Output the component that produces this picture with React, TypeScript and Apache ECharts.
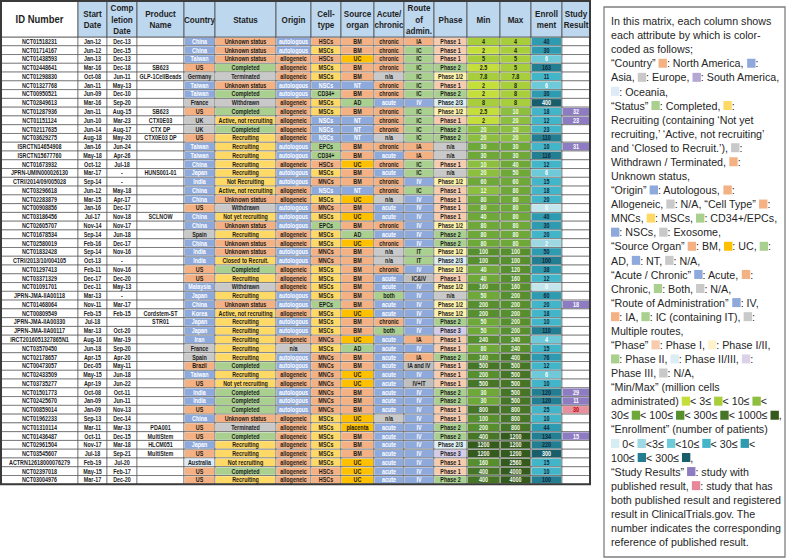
import React, { useEffect, useRef } from 'react';
import * as echarts from 'echarts';

// ---------- DATA ----------
const headers = ['ID Number', 'Start\nDate', 'Comp\nletion\nDate', 'Product\nName', 'Country', 'Status', 'Origin', 'Cell-\ntype', 'Source\norgan', 'Acute/\nchronic', 'Route\nof\nadmin.', 'Phase', 'Min', 'Max', 'Enroll\nment', 'Study\nResult'];

const ids = ['NCT01518231', 'NCT01714167', 'NCT01438593', 'NCT02448641', 'NCT01298830', 'NCT01327768', 'NCT00950521', 'NCT02849613', 'NCT01287936', 'NCT01151124', 'NCT02117635', 'NCT03629275', 'ISRCTN14654908', 'ISRCTN15677760', 'NCT01673932', 'JPRN-UMIN000026130', 'CTRI/2014/09/005028', 'NCT03296618', 'NCT02283879', 'NCT00908856', 'NCT03186456', 'NCT02605707', 'NCT01678534', 'NCT02580019', 'NCT01832428', 'CTRI/2013/10/004105', 'NCT01297413', 'NCT03371329', 'NCT01091701', 'JPRN-JMA-IIA00118', 'NCT01468064', 'NCT00809549', 'JPRN-JMA-IIA00330', 'JPRN-JMA-IIA00117', 'IRCT2016051327865N1', 'NCT03570450', 'NCT02178657', 'NCT00473057', 'NCT02433509', 'NCT03735277', 'NCT01501773', 'NCT02425670', 'NCT00859014', 'NCT01962233', 'NCT01310114', 'NCT01436487', 'NCT02961504', 'NCT03545607', 'ACTRN12618000076279', 'NCT02397018', 'NCT03004976'];

const startDates = ['Jan-12', 'Jun-12', 'Jan-13', 'Mar-16', 'Oct-08', 'Jan-11', 'Jun-09', 'Mar-16', 'Jan-11', 'Jun-10', 'Jun-14', 'Aug-18', 'Jan-16', 'May-18', 'Oct-12', 'Mar-17', 'Sep-14', 'Jun-12', 'Mar-15', 'Jan-16', 'Jul-17', 'Nov-14', 'Sep-14', 'Feb-16', 'Sep-14', 'Oct-13', 'Feb-11', 'Dec-17', 'Dec-11', 'Mar-13', 'Nov-11', 'Feb-15', 'Jul-18', 'Mar-13', 'Aug-16', 'Jun-18', 'Apr-15', 'Dec-05', 'May-15', 'Apr-19', 'Oct-08', 'Jan-09', 'Jan-09', 'Sep-13', 'Mar-11', 'Oct-11', 'Nov-17', 'Jul-18', 'Feb-19', 'May-15', 'Mar-17'];

const completionDates = ['Dec-13', 'Dec-15', 'Dec-13', 'Dec-18', 'Jun-11', 'May-13', 'Dec-10', 'Sep-20', 'Aug-15', 'Mar-23', 'Aug-17', 'May-20', 'Jun-24', 'Apr-26', 'Jul-18', '-', '-', 'May-18', 'Apr-17', 'Dec-17', 'Nov-18', 'Nov-17', 'Jun-18', 'Dec-17', 'Nov-16', '-', 'Nov-16', 'Dec-20', 'May-13', '-', 'Mar-17', 'Feb-15', '', 'Oct-20', 'Mar-19', 'Sep-20', 'Apr-20', 'May-11', 'Jun-18', 'Jun-22', 'Oct-11', 'Jun-11', 'Nov-13', 'Dec-14', 'Mar-13', 'Dec-15', 'Mar-18', 'Sep-21', 'Jul-20', 'Feb-17', 'Dec-20'];

const productNames = ['', '', '', 'SB623', 'GLP-1CellBeads', '', '', '', 'SB623', 'CTX0E03', 'CTX DP', 'CTX0E03 DP', '', '', '', 'HUNS001-01', '', '', '', '', 'SCLNOW', '', '', '', '', '', '', '', '', '', '', 'Cordstem-ST', 'STR01', '', '', '', '', '', '', '', '', '', '', '', 'PDA001', 'MultiStem', 'HLCM051', 'MultiStem', '', '', ''];

const countries = ['China', 'China', 'Taiwan', 'US', 'Germany', 'Taiwan', 'Taiwan', 'France', 'US', 'UK', 'UK', 'US', 'Taiwan', 'Taiwan', 'China', 'Japan', 'India', 'China', 'China', 'US', 'China', 'China', 'Spain', 'China', 'India', 'India', 'US', 'US', 'Malaysia', 'Japan', 'China', 'Korea', 'Japan', 'Japan', 'Iran', 'France', 'Spain', 'Brazil', 'Taiwan', 'US', 'India', 'India', 'US', 'China', 'US', 'US', 'Japan', 'US', 'Australia', 'US', 'US'];

const statuses = ['Unknown status', 'Unknown status', 'Unknown status', 'Completed', 'Terminated', 'Unknown status', 'Completed', 'Withdrawn', 'Completed', 'Active, not recruiting', 'Completed', 'Recruiting', 'Recruiting', 'Recruiting', 'Recruiting', 'Recruiting', 'Not Recruiting', 'Active, not recruiting', 'Unknown status', 'Withdrawn', 'Not yet recruiting', 'Unknown status', 'Recruiting', 'Unknown status', 'Unknown status', 'Closed to Recruit.', 'Completed', 'Recruiting', 'Withdrawn', 'Recruiting', 'Unknown status', 'Active, not recruiting', 'Recruiting', 'Recruiting', 'Recruiting', 'Recruiting', 'Recruiting', 'Completed', 'Recruiting', 'Not yet recruiting', 'Completed', 'Completed', 'Completed', 'Unknown status', 'Terminated', 'Completed', 'Recruiting', 'Recruiting', 'Not recruiting', 'Completed', 'Recruiting'];

const origins = ['autologous', 'autologous', 'allogeneic', 'allogeneic', 'allogeneic', 'autologous', 'autologous', 'allogeneic', 'allogeneic', 'allogeneic', 'allogeneic', 'allogeneic', 'autologous', 'autologous', 'allogeneic', 'autologous', 'autologous', 'allogeneic', 'allogeneic', 'autologous', 'autologous', 'autologous', 'allogeneic', 'allogeneic', 'autologous', 'autologous', 'allogeneic', 'allogeneic', 'allogeneic', 'autologous', 'autologous', 'allogeneic', 'autologous', 'autologous', 'allogeneic', 'n/a', 'autologous', 'autologous', 'allogeneic', 'allogeneic', 'autologous', 'autologous', 'autologous', 'allogeneic', 'allogeneic', 'allogeneic', 'allogeneic', 'allogeneic', 'allogeneic', 'allogeneic', 'allogeneic'];

const cellTypes = ['HSCs', 'MSCs', 'HSCs', 'MSCs', 'MSCs', 'NSCs', 'CD34+', 'MSCs', 'MSCs', 'NSCs', 'NSCs', 'NSCs', 'EPCs', 'CD34+', 'HSCs', 'MSCs', 'MNCs', 'NSCs', 'MSCs', 'MNCs', 'MSCs', 'EPCs', 'MSCs', 'MSCs', 'MNCs', 'MNCs', 'MSCs', 'MSCs', 'MSCs', 'MSCs', 'EPCs', 'MSCs', 'MSCs', 'MSCs', 'MNCs', 'MSCs', 'MNCs', 'MNCs', 'MNCs', 'MNCs', 'MNCs', 'MNCs', 'MNCs', 'MSCs', 'MSCs', 'MSCs', 'MSCs', 'MSCs', 'MSCs', 'HSCs', 'HSCs'];

const sourceOrgans = ['BM', 'BM', 'UC', 'BM', 'BM', 'NT', 'BM', 'AD', 'BM', 'NT', 'NT', 'NT', 'BM', 'BM', 'UC', 'BM', 'BM', 'NT', 'UC', 'BM', 'UC', 'BM', 'AD', 'UC', 'BM', 'BM', 'BM', 'BM', 'BM', 'BM', 'BM', 'UC', 'BM', 'BM', 'UC', 'AD', 'BM', 'BM', 'UC', 'UC', 'BM', 'BM', 'BM', 'UC', 'placenta', 'BM', 'BM', 'BM', 'UC', 'UC', 'UC'];

const acuteChronic = ['chronic', 'chronic', 'chronic', 'chronic', 'n/a', 'chronic', 'chronic', 'acute', 'chronic', 'chronic', 'chronic', 'n/a', 'chronic', 'acute', 'chronic', 'acute', 'chronic', 'chronic', 'n/a', 'acute', 'acute', 'chronic', 'acute', 'chronic', 'n/a', 'n/a', 'chronic', 'acute', 'acute', 'both', 'acute', 'acute', 'chronic', 'both', 'acute', 'acute', 'acute', 'acute', 'acute', 'acute', 'acute', 'acute', 'acute', 'n/a', 'acute', 'acute', 'acute', 'acute', 'acute', 'acute', 'acute'];

const routes = ['IA', 'IC', 'IC', 'IC', 'IC', 'IC', 'IC', 'IV', 'IC', 'IC', 'IC', 'IC', 'IA', 'IA', 'IC', 'IC', 'IV', 'IC', 'IV', 'IV', 'IV', 'IV', 'IV', 'IV', 'IT', 'IT', 'IV', 'IC&IV', 'IV', 'IV', 'IV', 'IV', 'IV', 'IV', 'IA', 'IV', 'IA', 'IA and IV', 'IV', 'IV+IT', 'IV', 'IV', 'IV', 'IV', 'IV', 'IV', 'IV', 'IV', 'IV', 'IV', 'IV'];

const phases = ['Phase 1', 'Phase 1', 'Phase 1', 'Phase 2', 'Phase 1/2', 'Phase 1', 'Phase 2', 'Phase 2/3', 'Phase 1/2', 'Phase 1', 'Phase 2', 'Phase 2', 'n/a', 'n/a', 'Phase 1', 'n/a', 'Phase 1/2', 'Phase 1', 'Phase 1', 'Phase 1', 'Phase 1', 'Phase 1/2', 'Phase 2', 'Phase 2', 'Phase 1/2', 'Phase 2/3', 'Phase 1/2', 'Phase 1', 'Phase 1/2', 'n/a', 'Phase 1/2', 'Phase 1/2', 'Phase 2', 'Phase 3', 'Phase 1', 'Phase 1', 'Phase 2', 'Phase 1', 'Phase 1', 'Phase 1', 'Phase 2', 'Phase 2', 'Phase 1', 'Phase 1', 'Phase 2', 'Phase 2', 'Phase 2/3', 'Phase 3', 'Phase 1', 'Phase 1', 'Phase 2'];

const minCells = [4, 2, 5, 2.5, 7.8, 2, 2, 8, 2.5, 2, 20, 20, 30, 30, 10, 20, 60, 12, 80, 80, 40, 80, 80, 80, 100, 100, 40, 40, 160, 50, 200, 200, 50, 50, 240, 80, 160, 500, 200, 500, 30, 30, 800, 100, 200, 400, 1200, 1200, 160, 400, 400];

const maxCells = [4, 4, 5, 5, 7.8, 8, 8, 8, 10, 20, 20, 20, 30, 30, 40, 50, 60, 80, 80, 80, 80, 80, 80, 80, 100, 100, 120, 160, 160, 200, 200, 200, 200, 200, 240, 240, 400, 500, 500, 500, 500, 500, 800, 800, 800, 1200, 1200, 1200, 2560, 4000, 4000];

const enrollment = [40, 30, 6, 163, 11, 6, 30, 400, 18, 12, 23, 110, 10, 116, 12, 6, 15, 18, 20, 0, 40, 30, 20, 2, 50, 100, 38, 12, 0, 60, 20, 18, 10, 110, 4, 15, 76, 12, 6, 10, 120, 120, 25, 10, 44, 134, 220, 300, 15, 10, 100];

const studyResults = ['', '', '', '', '', '', '', '', '32', '23', '', '', '31', '', '', '', '', '', '', '', '', '', '', '', '', '', '', '', '', '', '18', '', '', '', '', '', '', '', '', '', '29', '11', '30', '', '', '15', '', '', '', '', ''];
const registeredResultRefs = ['30'];

// ---------- STYLES ----------
const ORANGE = '#F4B183';
const BLUE = '#8EA9DB';
const GRAY = '#C9C9C9';
const GREEN = '#A9D08E';
const YELLOW = '#FFD966';
const GOLD = '#FFC000';
const LIGHTBLUE = '#DDEBF7';
const PURPLE = '#B4A7D6';
const HEADER_BG = '#BDD7EE';
const DARK = '#1c1c1c';
const WHITE = '#ffffff';
const minMaxColors = ['#C4DF3C', '#A8CE3B', '#8CBF3F', '#6DA839', '#578F2E', '#467527', '#355A1D'];
const minMaxBreaks = [3, 10, 30, 100, 300, 1000];
const enrollColors = ['#C2E6EC', '#9ED8E2', '#6ECAD8', '#43B5C8', '#2E9BB0', '#237E91', '#185E6B'];
const enrollBreaks = [3, 10, 30, 100, 300];
const phaseColors: Record<string, string> = { 'Phase 1': '#F8CBAD', 'Phase 1/2': '#FFF2A8', 'Phase 2': GREEN, 'Phase 2/3': '#DAEEF3', 'Phase 3': '#D5CCEB', 'n/a': GRAY };

const colWidths = [77, 29, 30, 47, 31, 61, 35, 30, 33, 30, 30, 33, 33, 31, 31, 28];
const colEdges = colWidths.reduce((acc: number[], w) => { acc.push(acc[acc.length - 1] + w); return acc; }, [0]);
const TABLE_W = colEdges[colEdges.length - 1];
const HEADER_H = 36;

function binIndex(v: number, breaks: number[]) {
  let i = 0;
  while (i < breaks.length && v >= breaks[i]) i++;
  return i;
}

function cellInfo(c: number, r: number): { text: string; bg: string; fg: string } {
  const plain = (t: string) => ({ text: t, bg: WHITE, fg: DARK });
  switch (c) {
    case 0: return plain(ids[r]);
    case 1: return plain(startDates[r]);
    case 2: return plain(completionDates[r]);
    case 3: return plain(productNames[r]);
    case 4: {
      const v = countries[r];
      if (v === 'US' || v === 'Brazil') return { text: v, bg: ORANGE, fg: DARK };
      if (['Germany', 'France', 'UK', 'Spain'].includes(v)) return { text: v, bg: GRAY, fg: DARK };
      if (v === 'Australia') return { text: v, bg: LIGHTBLUE, fg: DARK };
      return { text: v, bg: BLUE, fg: WHITE };
    }
    case 5: {
      const v = statuses[r];
      if (v === 'Completed') return { text: v, bg: GREEN, fg: DARK };
      if (v === 'Withdrawn' || v === 'Terminated') return { text: v, bg: GRAY, fg: DARK };
      if (v === 'Unknown status') return { text: v, bg: ORANGE, fg: DARK };
      return { text: v, bg: YELLOW, fg: DARK };
    }
    case 6: {
      const v = origins[r];
      if (v === 'autologous') return { text: v, bg: BLUE, fg: WHITE };
      if (v === 'allogeneic') return { text: v, bg: ORANGE, fg: DARK };
      return { text: v, bg: GRAY, fg: DARK };
    }
    case 7: {
      const v = cellTypes[r];
      if (v === 'MSCs') return { text: v, bg: YELLOW, fg: DARK };
      if (v === 'NSCs') return { text: v, bg: BLUE, fg: WHITE };
      if (v === 'EPCs' || v === 'CD34+') return { text: v, bg: GREEN, fg: DARK };
      return { text: v, bg: ORANGE, fg: DARK };
    }
    case 8: {
      const v = sourceOrgans[r];
      if (v === 'BM') return { text: v, bg: ORANGE, fg: DARK };
      if (v === 'UC' || v === 'placenta') return { text: v, bg: GOLD, fg: DARK };
      if (v === 'AD') return { text: v, bg: GREEN, fg: DARK };
      if (v === 'NT') return { text: v, bg: BLUE, fg: WHITE };
      return { text: v, bg: GRAY, fg: DARK };
    }
    case 9: {
      const v = acuteChronic[r];
      if (v === 'acute') return { text: v, bg: BLUE, fg: WHITE };
      if (v === 'chronic') return { text: v, bg: ORANGE, fg: DARK };
      if (v === 'both') return { text: v, bg: GREEN, fg: DARK };
      return { text: v, bg: GRAY, fg: DARK };
    }
    case 10: {
      const v = routes[r];
      if (v === 'IV') return { text: v, bg: BLUE, fg: WHITE };
      if (v === 'IA') return { text: v, bg: ORANGE, fg: DARK };
      if (v === 'IC' || v === 'IT') return { text: v, bg: GREEN, fg: DARK };
      return { text: v, bg: '#BFBFBF', fg: DARK };
    }
    case 11: {
      const v = phases[r];
      return { text: v, bg: phaseColors[v] || GRAY, fg: DARK };
    }
    case 12:
    case 13: {
      const v = c === 12 ? minCells[r] : maxCells[r];
      const b = binIndex(v, minMaxBreaks);
      return { text: String(v), bg: minMaxColors[b], fg: b < 2 ? DARK : '#F4F8EC' };
    }
    case 14: {
      const v = enrollment[r];
      const b = v === 0 ? 0 : binIndex(v, enrollBreaks) + 1;
      return { text: String(v), bg: enrollColors[b], fg: b < 3 || b > 5 ? WHITE : '#13293D' };
    }
    case 15: {
      const v = studyResults[r];
      if (!v) return plain('');
      if (registeredResultRefs.includes(v)) return { text: v, bg: '#E8919E', fg: '#C00000' };
      return { text: v, bg: '#8E7CC3', fg: WHITE };
    }
  }
  return plain('');
}

const cellData: number[][] = [];
ids.forEach((_, r) => { for (let c = 0; c < headers.length; c++) cellData.push([c, r]); });
const headerData: number[][] = headers.map((_, c) => [c, 0]);

// ---------- LEGEND TEXT ----------
const legendLines = [
  'In this matrix, each column shows',
  'each attribute by which is color-',
  'coded as follows;',
  '“Country” {or| }: North America, {bl| }:',
  'Asia, {gy| }: Europe, {pu| }: South America,',
  '{oc| }: Oceania,',
  '“Status” {gr| }: Completed, {ye| }:',
  'Recruiting (containing ‘Not yet',
  'recruiting,’ ‘Active, not recruiting’',
  'and ‘Closed to Recruit.’), {gy| }:',
  'Withdrawn / Terminated, {or| }:',
  'Unknown status,',
  '“Origin” {bl| }: Autologous, {or| }:',
  'Allogeneic, {gy| }: N/A, “Cell Type” {or| }:',
  'MNCs, {ye| }: MSCs, {gr| }: CD34+/EPCs,',
  '{bl| }: NSCs, {gy| }: Exosome,',
  '“Source Organ” {or| }: BM, {go| }: UC, {gr| }:',
  'AD, {bl| }: NT, {gy| }: N/A,',
  '“Acute / Chronic” {bl| }: Acute, {or| }:',
  'Chronic, {gr| }: Both, {gy| }: N/A,',
  '“Route of Administration” {bl| }: IV,',
  '{or| }: IA, {gr| }: IC (containing IT), {gy| }:',
  'Multiple routes,',
  '“Phase” {p1| }: Phase I, {p12| }: Phase I/II,',
  '{gr| }: Phase II, {p23| }: Phase II/III, {p3| }:',
  'Phase III, {gy| }: N/A,',
  '“Min/Max” (million cells',
  'administrated) {m0| }< 3≤ {m1| }< 10≤ {m2| }<',
  '30≤ {m3| }< 100≤ {m4| }< 300≤ {m5| }< 1000≤ {m6| },',
  '“Enrollment” (number of patients)',
  '{e0| } 0< {e1| }<3≤ {e2| }<10≤ {e3| }< 30≤ {e4| }<',
  '100≤ {e5| }< 300≤ {e6| },',
  '“Study Results” {sr| }: study with',
  'published result, {pk| }: study that has',
  'both published result and registered',
  'result in ClinicalTrials.gov. The',
  'number indicates the corresponding',
  'reference of published result.',
];

const sq = (color: string) => ({ backgroundColor: color, width: 9, height: 9, verticalAlign: 'middle' as const });
const legendRich: Record<string, any> = {
  or: sq(ORANGE), bl: sq(BLUE), gy: sq(GRAY), pu: sq(PURPLE), oc: sq('#DEEBF7'),
  gr: sq(GREEN), ye: sq(YELLOW), go: sq(GOLD),
  p1: sq('#F8CBAD'), p12: sq('#FFF2CC'), p23: sq('#DAEEF3'), p3: sq('#D9D2E9'),
  m0: sq(minMaxColors[0]), m1: sq(minMaxColors[1]), m2: sq(minMaxColors[2]), m3: sq(minMaxColors[3]),
  m4: sq(minMaxColors[4]), m5: sq(minMaxColors[5]), m6: sq(minMaxColors[6]),
  e0: sq('#D6EEF2'), e1: sq(enrollColors[1]), e2: sq(enrollColors[2]), e3: sq(enrollColors[3]),
  e4: sq(enrollColors[4]), e5: sq(enrollColors[5]), e6: sq(enrollColors[6]),
  sr: sq('#8E7CC3'), pk: sq('#E6879A'),
};

export default function App() {
  const ref = useRef<HTMLDivElement>(null);
  useEffect(() => {
    if (!ref.current) return;
    const chart = echarts.init(ref.current, null, { renderer: 'svg' });

    const renderCell = (params: any, api: any) => {
      const c = api.value(0);
      const r = api.value(1);
      const left = api.coord([colEdges[c], r])[0];
      const right = api.coord([colEdges[c + 1], r])[0];
      const cy = api.coord([0, r])[1];
      const h = api.size([0, 1])[1];
      const info = cellInfo(c, r);
      const children: any[] = [
        { type: 'rect', shape: { x: left, y: cy - h / 2, width: right - left, height: h }, style: { fill: WHITE, stroke: '#4a4a4a', lineWidth: 0.6 } },
      ];
      if (info.bg !== WHITE) {
        children.push({ type: 'rect', shape: { x: left + 0.7, y: cy - h / 2 + 0.7, width: right - left - 1.4, height: h - 1.4 }, style: { fill: info.bg } });
      }
      if (info.text) {
        children.push({
          type: 'text', x: (left + right) / 2, y: cy + 0.3, scaleX: 0.86,
          style: { text: info.text, fill: info.fg, font: 'bold 6.3px "Liberation Sans", Arial, sans-serif', align: 'center', verticalAlign: 'middle', textAlign: 'center', textVerticalAlign: 'middle' },
        });
      }
      return { type: 'group', children };
    };

    const renderHeader = (params: any, api: any) => {
      const c = api.value(0);
      const left = api.coord([colEdges[c], 0])[0];
      const right = api.coord([colEdges[c + 1], 0])[0];
      const h = api.size([0, 1])[1];
      const bottom = api.coord([0, 0])[1] - h / 2;
      const top = bottom - HEADER_H;
      const isId = c === 0;
      return {
        type: 'group',
        children: [
          { type: 'rect', shape: { x: left, y: top, width: right - left, height: HEADER_H }, style: { fill: isId ? WHITE : HEADER_BG, stroke: '#4a4a4a', lineWidth: 0.8 } },
          {
            type: 'text', x: (left + right) / 2, y: top + HEADER_H / 2 + 0.5, scaleX: isId ? 0.86 : 0.9,
            style: {
              text: headers[c], fill: '#1f1f1f',
              font: isId ? 'bold 11px "Liberation Sans", Arial, sans-serif' : 'bold 9px "Liberation Sans", Arial, sans-serif',
              lineHeight: 11.5, align: 'center', verticalAlign: 'middle', textAlign: 'center', textVerticalAlign: 'middle',
            },
          },
        ],
      };
    };

    const gridTop = 37;
    const gridHeight = 447.3;

    chart.setOption({
      animation: false,
      backgroundColor: '#ffffff',
      grid: { left: 1, top: gridTop, width: TABLE_W, height: gridHeight },
      xAxis: { type: 'value', min: 0, max: TABLE_W, show: false },
      yAxis: { type: 'category', data: ids, inverse: true, show: false },
      series: [
        { type: 'custom', renderItem: renderCell, data: cellData, clip: false, silent: true, encode: { x: 0, y: 1 } },
        { type: 'custom', renderItem: renderHeader, data: headerData, clip: false, silent: true, encode: { x: 0, y: 1 } },
      ],
      graphic: [
        { type: 'rect', z: 100, silent: true, shape: { x: 1, y: 1, width: TABLE_W, height: gridTop - 1 + gridHeight }, style: { fill: 'none', stroke: '#3a3a3a', lineWidth: 2 } },
        { type: 'rect', z: 1, silent: true, shape: { x: 604, y: 7, width: 181, height: 550 }, style: { fill: '#ffffff', stroke: '#7f7f7f', lineWidth: 1.3 } },
        ...legendLines.map((t, i) => ({
          type: 'text', z: 2, silent: true, x: 611, y: 21 + i * 14.08, scaleX: 0.93,
          style: {
            text: t, rich: legendRich, fill: '#262626', font: '11.5px "Liberation Sans", Arial, sans-serif',
            align: 'left', verticalAlign: 'middle', textAlign: 'left', textVerticalAlign: 'middle',
          },
        })),
      ],
    });
    return () => chart.dispose();
  }, []);
  return <div ref={ref} style={{ position: 'fixed', left: 0, top: 0, width: 788, height: 560 }} />;
}
